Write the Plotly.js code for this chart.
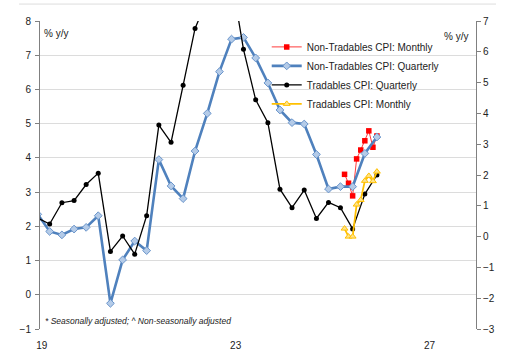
<!DOCTYPE html>
<html>
<head>
<meta charset="utf-8">
<script src="https://cdn.plot.ly/plotly-3.0.1.min.js"></script>
<style>html,body{margin:0;padding:0;background:#fff;}#chart{width:513px;height:362px;}</style>
</head>
<body>
<div id="chart"></div>
<script>
// Quarterly dates (quarter-end months)
var quarterDates = ['2018-12-15','2019-03-15','2019-06-15','2019-09-15','2019-12-15',
  '2020-03-15','2020-06-15','2020-09-15','2020-12-15',
  '2021-03-15','2021-06-15','2021-09-15','2021-12-15',
  '2022-03-15','2022-06-15','2022-09-15','2022-12-15',
  '2023-03-15','2023-06-15','2023-09-15','2023-12-15',
  '2024-03-15','2024-06-15','2024-09-15','2024-12-15',
  '2025-03-15','2025-06-15','2025-09-15','2025-12-15'];
// Non-tradables CPI, quarterly (% y/y, left axis)
var nonTradablesQ = [2.35,1.85,1.75,1.92,1.97,2.31,-0.25,1.02,1.57,1.29,3.95,3.18,2.81,4.20,5.30,6.52,7.47,7.52,6.92,6.19,5.40,5.03,4.99,4.10,3.09,3.16,3.16,4.13,4.61];
// Tradables CPI, quarterly (% y/y, right axis)
var tradablesQ = [0.6,0.41,1.10,1.17,1.69,2.06,-0.48,0.02,-0.57,0.68,3.62,3.06,4.91,6.76,7.7,8.7,8.4,6.08,4.44,3.70,1.54,0.94,1.51,0.59,1.11,0.94,0.25,1.38,2.0];
// Monthly dates
var monthDates = ['2025-04-15','2025-05-15','2025-06-15','2025-07-15','2025-08-15','2025-09-15','2025-10-15','2025-11-15','2025-12-15'];
// Non-tradables CPI, monthly (left axis)
var nonTradablesM = [3.52,3.26,2.89,3.97,4.23,4.50,4.79,4.31,4.64];
// Tradables CPI, monthly (right axis)
var tradablesM = [0.26,0.0,0.0,1.04,1.19,1.81,1.97,1.80,2.11];
// Axis labels
var xLabelVals = ['2019-01-15','2023-01-15','2027-01-15'];
var xLabelText = ['19','23','27'];
var yearTicks = ['2019-01-01','2020-01-01','2021-01-01','2022-01-01','2023-01-01','2024-01-01','2025-01-01','2026-01-01','2027-01-01'];
var seriesNames = ['Non-Tradables CPI: Monthly','Non-Tradables CPI: Quarterly','Tradables CPI: Quarterly','Tradables CPI: Monthly'];

var font = 'Liberation Sans, Arial, sans-serif';
var xRange = ['2019-01-01','2028-01-01'];

var traces = [
  {x: monthDates, y: nonTradablesM, name: seriesNames[0], type: 'scatter', mode: 'lines+markers',
   xaxis: 'x', yaxis: 'y',
   line: {color: '#FF3B3B', width: 1}, marker: {symbol: 'square', size: 5.5, color: '#FF0000'}},
  {x: quarterDates, y: nonTradablesQ, name: seriesNames[1], type: 'scatter', mode: 'lines+markers',
   xaxis: 'x', yaxis: 'y',
   line: {color: '#4F81BD', width: 2.6}, marker: {symbol: 'diamond', size: 6, color: '#B4CBE8', line: {color: '#6A95CB', width: 1}}},
  {x: quarterDates, y: tradablesQ, name: seriesNames[2], type: 'scatter', mode: 'lines+markers',
   xaxis: 'x', yaxis: 'y2',
   line: {color: '#000000', width: 1.3}, marker: {symbol: 'circle', size: 5, color: '#000000'}},
  {x: monthDates, y: tradablesM, name: seriesNames[3], type: 'scatter', mode: 'lines+markers',
   xaxis: 'x', yaxis: 'y2',
   line: {color: '#FFC000', width: 1.8}, marker: {symbol: 'triangle-up', size: 6, color: '#FFE38A', line: {color: '#FFC000', width: 1}}}
];

var layout = {
  width: 513, height: 362,
  margin: {l: 40, r: 37, t: 21, b: 33, pad: 0},
  paper_bgcolor: '#ffffff', plot_bgcolor: '#ffffff',
  font: {family: font, size: 10, color: '#222222'},
  showlegend: true,
  legend: {x: 0.52, y: 0.963, xanchor: 'left', yanchor: 'top', bgcolor: 'rgba(0,0,0,0)',
           font: {family: font, size: 10, color: '#222222'}, tracegroupgap: 0, itemwidth: 30},
  xaxis: {type: 'date', range: xRange, showgrid: false, zeroline: false, showline: false,
          ticks: 'outside', ticklen: 7, tickcolor: 'rgba(0,0,0,0)', tickmode: 'array', tickvals: xLabelVals, ticktext: xLabelText,
          tickfont: {family: font, size: 10, color: '#222222'}},
  xaxis2: {type: 'date', range: xRange, overlaying: 'x', anchor: 'free', position: 1/9,
           showgrid: false, zeroline: false, showline: true, linecolor: '#808080', linewidth: 1,
           ticks: 'outside', ticklen: 4, tickcolor: '#808080', tickmode: 'array', tickvals: yearTicks,
           showticklabels: false},
  yaxis: {range: [-1, 8], dtick: 1, tick0: 0, showgrid: true, gridcolor: '#DCDCDC', gridwidth: 1,
          zeroline: false, showline: true, linecolor: '#808080', linewidth: 1,
          ticks: 'outside', ticklen: 4, tickcolor: '#808080', ticklabelstandoff: 2,
          tickfont: {family: font, size: 10, color: '#222222'}},
  yaxis2: {range: [-3, 7], dtick: 1, tick0: 0, overlaying: 'y', side: 'right', showgrid: false,
           zeroline: false, showline: true, linecolor: '#808080', linewidth: 1,
           ticks: 'outside', ticklen: 4, tickcolor: '#808080',
           tickfont: {family: font, size: 10, color: '#222222'}},
  shapes: [
    {type: 'line', xref: 'paper', yref: 'paper', x0: -0.048, x1: 1.046, y0: 1.055, y1: 1.055,
     line: {color: '#DDDDDD', width: 1}}
  ],
  annotations: [
    {text: '% y/y', xref: 'paper', yref: 'paper', x: 0.004, y: 0.961, xanchor: 'left', yanchor: 'middle',
     showarrow: false, font: {family: font, size: 10, color: '#222222'}},
    {text: '% y/y', xref: 'paper', yref: 'paper', x: 0.986, y: 0.951, xanchor: 'right', yanchor: 'middle',
     showarrow: false, font: {family: font, size: 10, color: '#222222'}},
    {text: '<i>* Seasonally adjusted; ^ Non-seasonally adjusted</i>', xref: 'paper', yref: 'paper',
     x: 0.006, y: 0.026, xanchor: 'left', yanchor: 'middle', showarrow: false,
     font: {family: font, size: 8.5, color: '#222222'}}
  ]
};

Plotly.newPlot('chart', traces, layout, {staticPlot: true, displayModeBar: false});
</script>
</body>
</html>
